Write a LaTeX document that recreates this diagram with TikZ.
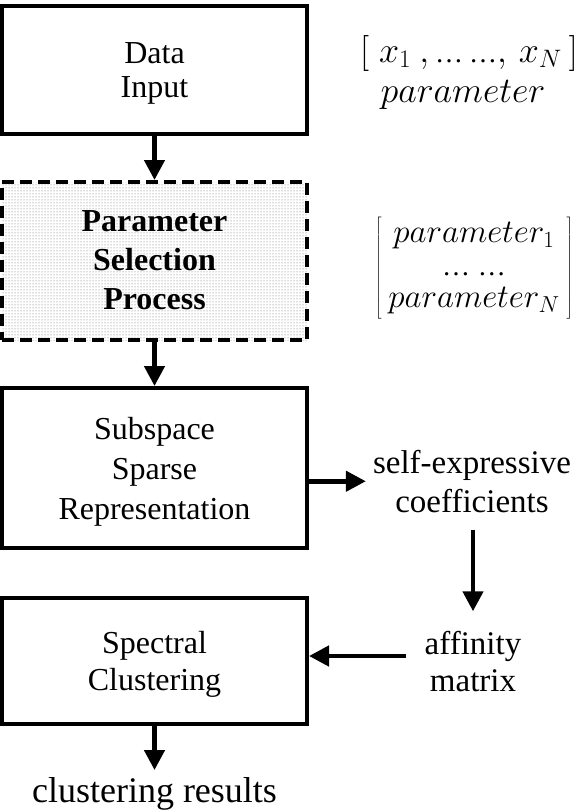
\RequirePackage{fix-cm}
\documentclass[tikz,border=0pt]{standalone}
\usepackage{fontspec}
\setmainfont{Liberation Serif}
\usetikzlibrary{arrows.meta,patterns}
\newcommand{\ellip}{\mbox{\fontsize{28}{30}\selectfont …}}
\begin{document}
\begin{tikzpicture}[x=1pt,y=1pt,
  box/.style={draw=black,line width=4pt,minimum width=305pt,inner sep=0pt},
  arr/.style={line width=4.5pt,-{Triangle[width=20pt,length=20pt]}},
  txt/.style={font=\fontsize{32}{34}\selectfont,align=center,inner sep=0pt},
  lbl/.style={font=\fontsize{33}{39}\selectfont,align=center},
  mathtxt/.style={font=\fontsize{36}{38}\selectfont,inner sep=0pt}]
\useasboundingbox (0,0) rectangle (580,-812);
% boxes
\node[box,minimum height=128pt] (inp) at (154.5,-70) {};
\node[txt] (inpT) at (154.5,-73) {Data\\Input};
\node[box,minimum height=158pt,dash pattern=on 12pt off 6pt,pattern=dots,pattern color=black!60] (psel) at (154.5,-261) {};
\node[txt,font=\bfseries\fontsize{32}{39}\selectfont] (pselT) at (154.5,-260) {Parameter\\Selection\\Process};
\node[box,minimum height=160pt] (ssr) at (154.5,-468) {};
\node[txt,font=\fontsize{32}{40}\selectfont] (ssrT) at (154.5,-472) {Subspace\\Sparse\\Representation};
\node[box,minimum height=126.5pt] (spec) at (154.5,-660.75) {};
\node[txt,font=\fontsize{32}{37}\selectfont] (specT) at (154.5,-664) {Spectral\\Clustering};
% right column
\node[mathtxt,anchor=base] (xvec) at (469,-62) {$[\hspace{10pt}x_1\hspace{8pt},\ellip\hspace{6pt}\ellip,\hspace{6pt}x_N\hspace{7pt}]$};
\node[mathtxt,anchor=base] (par) at (463,-102) {$parameter$};
\node[mathtxt,font=\fontsize{33}{38}\selectfont] (pmat) at (474,-268.5) {\setlength{\arraycolsep}{7pt}\renewcommand{\arraystretch}{0.86}$\left[\vcenter{\hbox{\rule{0pt}{104pt}}}\begin{array}{c}parameter_1\\ \ellip\hspace{8pt}\ellip\\ parameter_N\end{array}\right]$};
\node[lbl,inner xsep=7pt,inner ysep=17pt] (coef) at (472,-481.25) {self-expressive\\coefficients};
\node[lbl,font=\fontsize{33}{37}\selectfont,inner xsep=19pt,inner ysep=19.5pt] (aff) at (473,-661.25) {affinity\\matrix};
\node[font=\fontsize{36}{40}\selectfont,inner sep=7pt] (res) at (154.5,-793.6) {clustering results};
% connectors
\draw[arr] (inp) -- (psel);
\draw[arr] (psel) -- (ssr);
\draw[arr] (coef.west -| ssr.east) -- (coef.west);
\draw[arr] (coef.south -| aff.north) -- (aff.north);
\draw[arr] ([yshift=5.25pt]aff.west) -- ([yshift=5.25pt]aff.west -| spec.east);
\draw[arr] (spec) -- (res);
\end{tikzpicture}
\end{document}
